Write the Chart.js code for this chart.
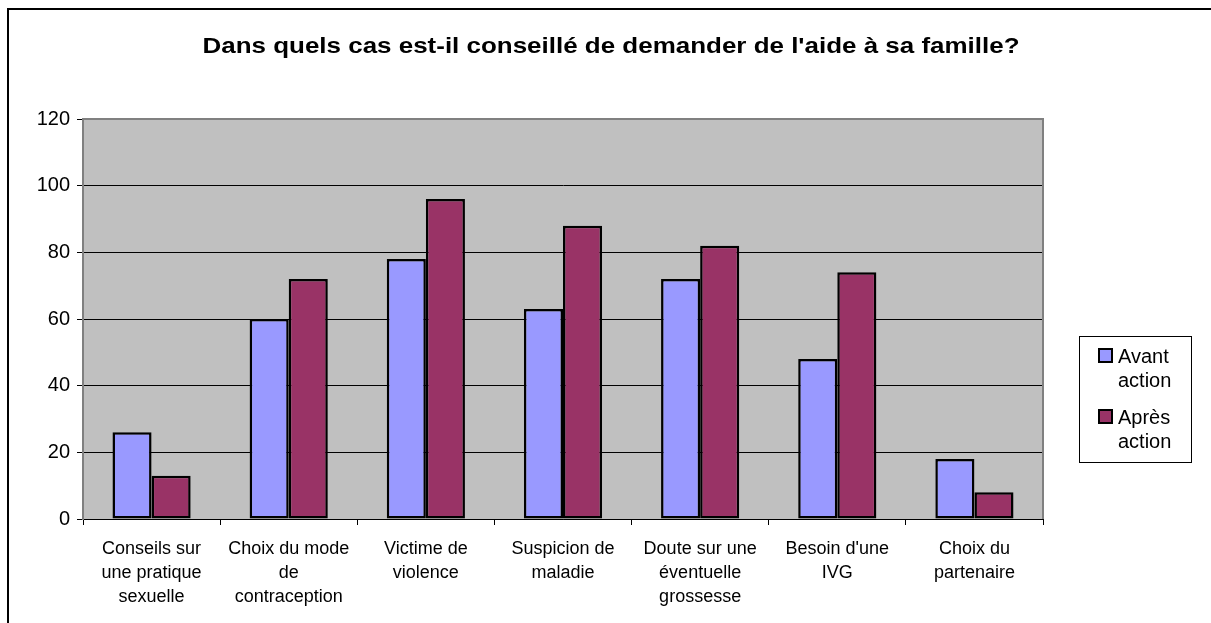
<!DOCTYPE html>
<html><head><meta charset="utf-8">
<script src="https://cdn.jsdelivr.net/npm/chart.js@4"></script>
<style>html,body{margin:0;padding:0;background:#fff}canvas{display:block}</style>
</head>
<body>
<canvas id="c" width="1211" height="623"></canvas>
<script>
const categories = [["Conseils sur","une pratique","sexuelle"],["Choix du mode","de","contraception"],["Victime de","violence"],["Suspicion de","maladie"],["Doute sur une","éventuelle","grossesse"],["Besoin d'une","IVG"],["Choix du","partenaire"]];
const avantAction = [26, 60, 78, 63, 72, 48, 18];
const apresAction = [13, 72, 96, 88, 82, 74, 8];
const seriesNames = [["Avant","action"],["Après","action"]];
const seriesColors = ["#9999FF", "#993366"];
const yMin = 0, yMax = 120, yStep = 20;
const titleText = "Dans quels cas est-il conseillé de demander de l'aide à sa famille?";
const FONT = "'Liberation Sans', Arial, sans-serif";

const decor = {
  id: 'decor',
  beforeDraw(chart) {
    const ctx = chart.ctx, a = chart.chartArea;
    ctx.save();
    ctx.fillStyle = '#fff';
    ctx.fillRect(0, 0, chart.width, chart.height);
    ctx.strokeStyle = '#000';
    ctx.lineWidth = 2;
    ctx.beginPath();
    ctx.moveTo(8, chart.height + 5); ctx.lineTo(8, 9); ctx.lineTo(chart.width + 5, 9);
    ctx.stroke();
    ctx.fillStyle = '#C0C0C0';
    ctx.fillRect(a.left, a.top, a.right - a.left, a.bottom - a.top);
    ctx.restore();
  },
  afterDraw(chart) {
    const ctx = chart.ctx, a = chart.chartArea;
    ctx.save();
    ctx.strokeStyle = '#808080';
    ctx.lineWidth = 2;
    ctx.beginPath();
    ctx.moveTo(a.left, a.top); ctx.lineTo(a.right, a.top); ctx.lineTo(a.right, a.bottom);
    ctx.stroke();
    // title (slightly widened to match the reference)
    ctx.save();
    ctx.translate(611, 53);
    ctx.scale(1.18, 1);
    ctx.fillStyle = '#000';
    ctx.font = 'bold 22px ' + FONT;
    ctx.textAlign = 'center';
    ctx.textBaseline = 'alphabetic';
    ctx.fillText(titleText, 0, 0);
    ctx.restore();
    // legend
    ctx.strokeStyle = '#000';
    ctx.lineWidth = 1;
    ctx.fillStyle = '#fff';
    ctx.fillRect(1079.5, 336.5, 112, 126);
    ctx.strokeRect(1079.5, 336.5, 112, 126);
    ctx.font = '20px ' + FONT;
    ctx.textAlign = 'left';
    ctx.textBaseline = 'alphabetic';
    const bases = [363, 424];
    chart.data.datasets.forEach((ds, i) => {
      const b = bases[i];
      ctx.fillStyle = ds.backgroundColor;
      ctx.fillRect(1099, b - 14, 13, 13);
      ctx.lineWidth = 2;
      ctx.strokeStyle = '#000';
      ctx.strokeRect(1099, b - 14, 13, 13);
      ctx.fillStyle = '#000';
      seriesNames[i].forEach((t, j) => ctx.fillText(t, 1118, b + j * 24));
    });
    ctx.restore();
  }
};

new Chart(document.getElementById('c'), {
  type: 'bar',
  data: {
    labels: categories,
    datasets: [
      { label: seriesNames[0].join(' '), data: avantAction, backgroundColor: seriesColors[0], borderColor: '#000', borderWidth: 2.5, borderSkipped: false },
      { label: seriesNames[1].join(' '), data: apresAction, backgroundColor: seriesColors[1], borderColor: '#000', borderWidth: 2.5, borderSkipped: false }
    ]
  },
  options: {
    responsive: false,
    animation: false,
    devicePixelRatio: 1,
    layout: { padding: { top: 119, right: 168, left: 0, bottom: 0 } },
    datasets: { bar: { categoryPercentage: 0.57, barPercentage: 1.0 } },
    plugins: { legend: { display: false }, title: { display: false }, tooltip: { enabled: false } },
    scales: {
      x: {
        grid: { drawOnChartArea: false, drawTicks: true, tickLength: 6, color: '#000', offset: true },
        border: { color: '#000', width: 1 },
        ticks: { color: '#000', font: { family: FONT, size: 18, lineHeight: 1.33 }, padding: 12, maxRotation: 0, autoSkip: false },
        afterFit(s) { s.height = 104; }
      },
      y: {
        min: yMin, max: yMax,
        grid: { color: '#000', lineWidth: 1, tickLength: 6, drawTicks: true },
        border: { color: '#808080', width: 2 },
        ticks: { stepSize: yStep, color: '#000', font: { family: FONT, size: 20 }, padding: 7 },
        afterFit(s) { s.width = 83; }
      }
    }
  },
  plugins: [decor]
});
</script>
</body></html>
